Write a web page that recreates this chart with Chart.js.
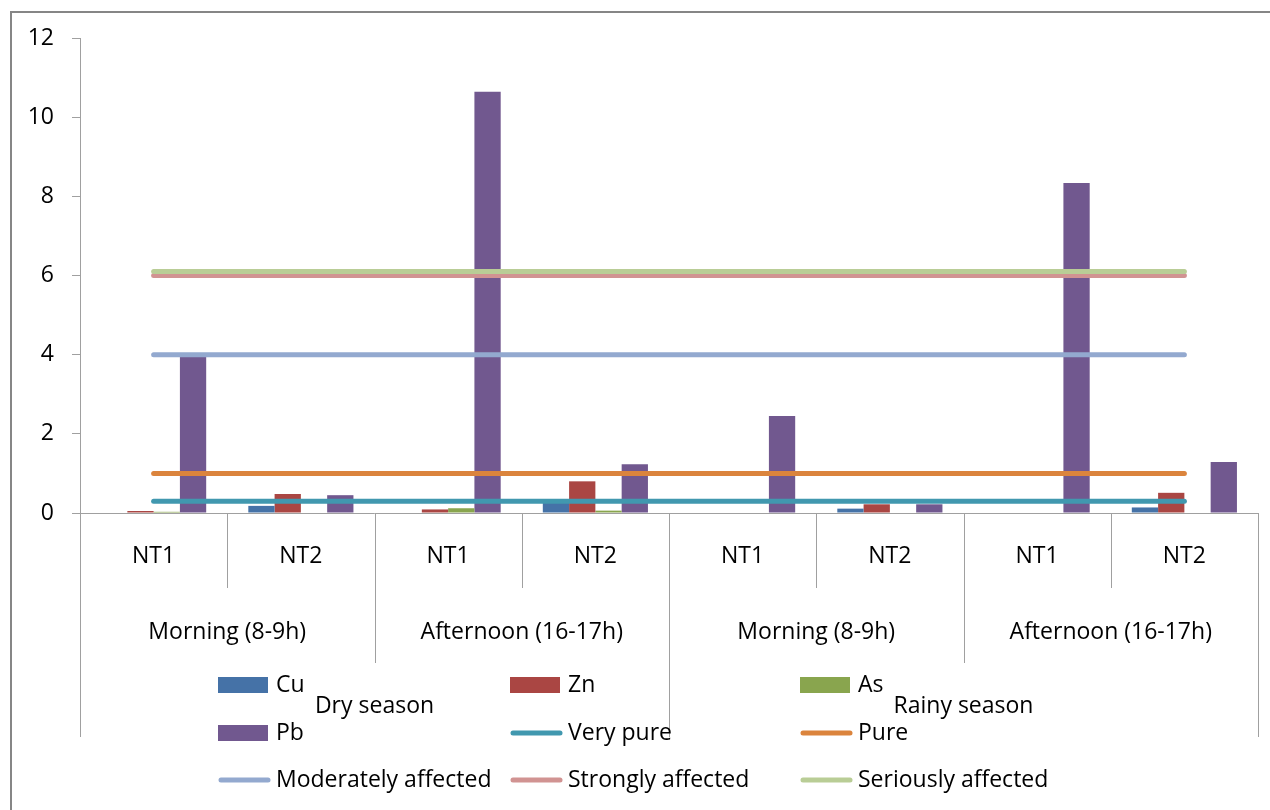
<!DOCTYPE html>
<html>
<head>
<meta charset="utf-8">
<script src="https://cdn.jsdelivr.net/npm/chart.js@4.4.0/dist/chart.umd.min.js"></script>
<style>
  html, body { margin: 0; padding: 0; background: #ffffff; }
  #wrap { width: 1270px; height: 810px; }
</style>
</head>
<body>
<div id="wrap"><canvas id="c" width="1270" height="810"></canvas></div>
<script>
// Sampling sites (first level of the category axis)
const sites = ['NT1', 'NT2', 'NT1', 'NT2', 'NT1', 'NT2', 'NT1', 'NT2'];
// Sampling periods (second level, two sites each)
const periods = ['Morning (8-9h)', 'Afternoon (16-17h)', 'Morning (8-9h)', 'Afternoon (16-17h)'];
// Seasons (third level, four sites each)
const seasons = ['Dry season', 'Rainy season'];

// Heavy-metal concentrations
const cu = [0, 0.18, 0, 0.28, 0, 0.11, 0, 0.14];
const zn = [0.05, 0.48, 0.09, 0.80, 0, 0.22, 0, 0.51];
const as = [0.03, 0, 0.12, 0.06, 0, 0, 0, 0];
const pb = [3.98, 0.45, 10.64, 1.23, 2.45, 0.22, 8.34, 1.29];

// Classification thresholds
const veryPure   = [0.3, 0.3, 0.3, 0.3, 0.3, 0.3, 0.3, 0.3];
const pure       = [1, 1, 1, 1, 1, 1, 1, 1];
const moderately = [4, 4, 4, 4, 4, 4, 4, 4];
const strongly   = [6, 6, 6, 6, 6, 6, 6, 6];
const seriously  = [6.1, 6.1, 6.1, 6.1, 6.1, 6.1, 6.1, 6.1];

// Y axis range
const yMin = 0, yMax = 12, yStep = 2;

const FONT = '"Open Sans", "Lato", "Liberation Sans", sans-serif';
const FONT_SIZE = 23;
const AXIS_GREY = '#a0a0a0';

function barSet(label, data, color) {
  return { type: 'bar', label, data, backgroundColor: color, borderWidth: 0, order: 10 };
}
function lineSet(label, data, color, order) {
  return {
    type: 'line', label, data, borderColor: color, backgroundColor: color,
    borderWidth: 5, borderCapStyle: 'round', pointRadius: 0, pointHoverRadius: 0,
    fill: false, tension: 0, order
  };
}

const datasets = [
  barSet('Cu', cu, '#4572A7'),
  barSet('Zn', zn, '#AA4643'),
  barSet('As', as, '#89A54E'),
  barSet('Pb', pb, '#71588F'),
  lineSet('Very pure', veryPure, '#4198AF', 5),
  lineSet('Pure', pure, '#DB843D', 4),
  lineSet('Moderately affected', moderately, '#93A9CF', 3),
  lineSet('Strongly affected', strongly, '#D19392', 2),
  lineSet('Seriously affected', seriously, '#B9CD96', 1)
];

// Frame, multi-level category separators, group labels and legend
const decorations = {
  id: 'decorations',
  beforeDraw(chart) {
    const ctx = chart.ctx;
    ctx.save();
    ctx.fillStyle = '#ffffff';
    ctx.fillRect(0, 0, chart.width, chart.height);
    ctx.strokeStyle = '#868686';
    ctx.lineWidth = 2;
    ctx.beginPath();
    ctx.moveTo(11, chart.height + 5);
    ctx.lineTo(11, 12);
    ctx.lineTo(chart.width + 5, 12);
    ctx.stroke();
    ctx.restore();
  },
  afterDraw(chart) {
    const ctx = chart.ctx;
    const x = chart.scales.x;
    const area = chart.chartArea;
    const n = sites.length;
    const step = (x.getPixelForValue(n - 1) - x.getPixelForValue(0)) / (n - 1);
    const edge = i => x.getPixelForValue(0) - step / 2 + i * step;
    const bottom = area.bottom;

    ctx.save();
    // separators between categories
    ctx.strokeStyle = AXIS_GREY;
    ctx.lineWidth = 1;
    for (let i = 0; i <= n; i++) {
      let len;
      if (i % 4 === 0) len = 224;
      else if (i % 2 === 0) len = 150;
      else len = 75;
      const px = Math.round(edge(i)) + 0.5;
      ctx.beginPath();
      ctx.moveTo(px, bottom);
      ctx.lineTo(px, bottom + len);
      ctx.stroke();
    }

    // period and season labels
    ctx.fillStyle = '#000000';
    ctx.font = FONT_SIZE + 'px ' + FONT;
    ctx.textAlign = 'center';
    ctx.textBaseline = 'middle';
    periods.forEach((p, k) => {
      const cx = (edge(2 * k) + edge(2 * k + 2)) / 2;
      ctx.fillText(p, cx, bottom + 119);
    });
    seasons.forEach((s, k) => {
      const cx = (edge(4 * k) + edge(4 * k + 4)) / 2;
      ctx.fillText(s, cx, bottom + 193);
    });

    // legend: three columns, three rows
    const colX = [218, 510, 800];
    const rowY = [685, 733, 780];
    ctx.textAlign = 'left';
    chart.data.datasets.forEach((ds, i) => {
      const bx = colX[i % 3];
      const by = rowY[Math.floor(i / 3)];
      if (ds.type === 'bar') {
        ctx.fillStyle = ds.backgroundColor;
        ctx.fillRect(bx, by - 8, 50, 16);
      } else {
        ctx.strokeStyle = ds.borderColor;
        ctx.lineWidth = 5;
        ctx.lineCap = 'round';
        ctx.beginPath();
        ctx.moveTo(bx + 3, by);
        ctx.lineTo(bx + 50, by);
        ctx.stroke();
      }
      ctx.fillStyle = '#000000';
      ctx.fillText(ds.label, bx + 58, by);
    });
    ctx.restore();
  }
};

new Chart(document.getElementById('c'), {
  data: { labels: sites, datasets },
  options: {
    responsive: false,
    animation: false,
    layout: { padding: { top: 38, right: 12, left: 0, bottom: 0 } },
    plugins: { legend: { display: false }, tooltip: { enabled: false } },
    datasets: { bar: { categoryPercentage: 0.714, barPercentage: 1 } },
    scales: {
      x: {
        type: 'category',
        offset: true,
        grid: { display: false, drawTicks: false },
        border: { display: true, color: AXIS_GREY, width: 1 },
        ticks: { color: '#000000', font: { family: FONT, size: FONT_SIZE }, padding: 30, maxRotation: 0, autoSkip: false },
        afterFit(scale) { scale.height = 297; }
      },
      y: {
        min: yMin, max: yMax,
        grid: { drawOnChartArea: false, drawTicks: true, tickLength: 8, color: AXIS_GREY },
        border: { display: true, color: AXIS_GREY, width: 1 },
        ticks: { stepSize: yStep, color: '#000000', font: { family: FONT, size: FONT_SIZE }, padding: 18 },
        afterFit(scale) { scale.width = 80; }
      }
    }
  },
  plugins: [decorations]
});
</script>
</body>
</html>
